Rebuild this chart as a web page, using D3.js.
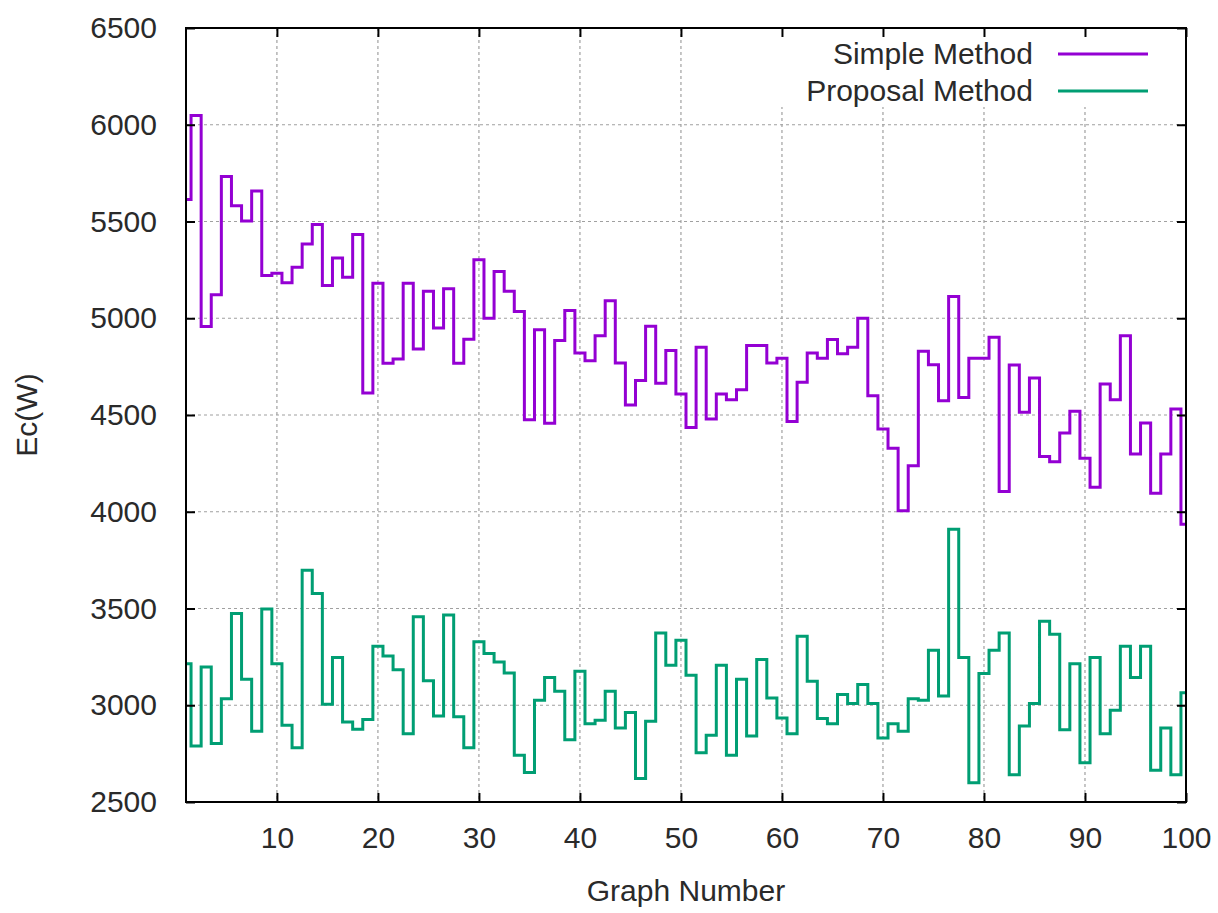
<!DOCTYPE html>
<html>

<head>
    <style>
        body {
            margin: 0;
            background: white;
        }

        text {
            font-family: "Liberation Sans", Arial, sans-serif;
            font-size: 30px;
            fill: #2a2a2a;
        }

        .grid line {
            stroke: #a0a0a0;
            stroke-width: 1.2;
            stroke-dasharray: 3, 3;
        }

        .series {
            fill: none;
            stroke-width: 3;
            stroke-linejoin: miter;
        }
    </style>
    <script src="https://d3js.org/d3.v7.min.js"></script>
</head>

<body>
    <svg width="1218" height="913"></svg>
    <script>
        // values, graph number 1..100
        var graphNumbers = d3.range(1, 101);

        var simpleMethod = [
            5614, 6048, 4957, 5121, 5733, 5581, 5502, 5657, 5221, 5233,
            5183, 5264, 5384, 5484, 5169, 5312, 5212, 5433, 4614, 5181,
            4767, 4790, 5181, 4841, 5140, 4950, 5152, 4767, 4891, 5302,
            5000, 5241, 5140, 5035, 4476, 4940, 4457, 4885, 5040, 4821,
            4781, 4910, 5091, 4769, 4552, 4678, 4959, 4664, 4833, 4609,
            4436, 4850, 4479, 4609, 4579, 4631, 4859, 4859, 4769, 4793,
            4466, 4669, 4821, 4793, 4890, 4816, 4850, 5000, 4600, 4428,
            4328, 4005, 4238, 4829, 4760, 4574, 5112, 4591, 4793, 4793,
            4902, 4105, 4759, 4514, 4691, 4286, 4259, 4407, 4519, 4276,
            4126, 4660, 4579, 4910, 4298, 4459, 4095, 4298, 4531, 3936
        ];

        var proposalMethod = [
            3215, 2790, 3198, 2802, 3034, 3474, 3134, 2866, 3497, 3215,
            2897, 2781, 3698, 3578, 3005, 3247, 2914, 2876, 2926, 3305,
            3255, 3184, 2853, 3457, 3126, 2945, 3466, 2940, 2781, 3328,
            3267, 3224, 3167, 2741, 2652, 3026, 3143, 3072, 2822, 3176,
            2905, 2922, 3072, 2883, 2962, 2621, 2917, 3374, 3207, 3336,
            3155, 2755, 2845, 3207, 2741, 3134, 2841, 3236, 3038, 2934,
            2853, 3357, 3124, 2931, 2905, 3055, 3009, 3107, 3009, 2831,
            2905, 2866, 3034, 3026, 3284, 3048, 3909, 3247, 2600, 3164,
            3284, 3374, 2641, 2893, 3009, 3434, 3367, 2874, 3215, 2703,
            3247, 2853, 2974, 3305, 3143, 3305, 2664, 2883, 2641, 3064
        ];

        var seriesNames = ["Simple Method", "Proposal Method"];
        var seriesColors = ["#9400d3", "#009e73"];

        var xTicks = [10, 20, 30, 40, 50, 60, 70, 80, 90, 100];
        var yTicks = [2500, 3000, 3500, 4000, 4500, 5000, 5500, 6000, 6500];

        var svg = d3.select("svg"),
            plotLeft = 186, plotRight = 1186, plotTop = 28, plotBottom = 802,
            width = plotRight - plotLeft,
            height = plotBottom - plotTop;

        var x = d3.scaleLinear().domain([1, 100]).range([plotLeft, plotRight]);
        var y = d3.scaleLinear().domain([2500, 6500]).range([plotBottom, plotTop]);

        // dashed grid
        svg.append("g")
            .attr("class", "grid")
            .selectAll("line")
            .data(xTicks.filter(function (d) { return d < 100; }))
            .enter().append("line")
            .attr("x1", function (d) { return x(d); })
            .attr("x2", function (d) { return x(d); })
            .attr("y1", plotTop)
            .attr("y2", plotBottom);

        svg.append("g")
            .attr("class", "grid")
            .selectAll("line")
            .data(yTicks.filter(function (d) { return d > 2500 && d < 6500; }))
            .enter().append("line")
            .attr("x1", plotLeft)
            .attr("x2", plotRight)
            .attr("y1", function (d) { return y(d); })
            .attr("y2", function (d) { return y(d); });

        // step lines (histeps -> curveStep)
        var line = d3.line()
            .curve(d3.curveStep)
            .x(function (d, i) { return x(graphNumbers[i]); })
            .y(function (d) { return y(d); });

        [simpleMethod, proposalMethod].forEach(function (values, k) {
            svg.append("path")
                .datum(values)
                .attr("class", "series")
                .attr("stroke", seriesColors[k])
                .attr("d", line);
        });

        // key, opaque
        svg.append("rect")
            .attr("x", 776)
            .attr("y", plotTop + 1)
            .attr("width", 394)
            .attr("height", 78)
            .attr("fill", "white");

        seriesNames.forEach(function (name, k) {
            var ly = 54 + k * 37;
            svg.append("text")
                .attr("x", 1033)
                .attr("y", ly + 10)
                .attr("text-anchor", "end")
                .text(name);
            svg.append("line")
                .attr("x1", 1058)
                .attr("x2", 1148)
                .attr("y1", ly)
                .attr("y2", ly)
                .attr("stroke", seriesColors[k])
                .attr("stroke-width", 3);
        });

        // axes with inward ticks on all four sides
        svg.append("g")
            .attr("transform", "translate(0," + plotBottom + ")")
            .call(d3.axisBottom(x).tickValues(xTicks).tickSize(-9).tickPadding(25).tickFormat(d3.format("d")));
        svg.append("g")
            .attr("transform", "translate(" + plotLeft + ",0)")
            .call(d3.axisLeft(y).tickValues(yTicks).tickSize(-9).tickPadding(29).tickFormat(d3.format("d")));
        svg.append("g")
            .attr("transform", "translate(0," + plotTop + ")")
            .call(d3.axisTop(x).tickValues(xTicks).tickSize(-9).tickFormat(""));
        svg.append("g")
            .attr("transform", "translate(" + plotRight + ",0)")
            .call(d3.axisRight(y).tickValues(yTicks).tickSize(-9).tickFormat(""));

        svg.selectAll(".domain").remove();
        svg.selectAll(".tick line").attr("stroke", "#000").attr("stroke-width", 2);
        svg.selectAll(".tick text")
            .attr("font-family", null)
            .attr("font-size", null)
            .attr("fill", null);

        svg.append("rect")
            .attr("x", plotLeft)
            .attr("y", plotTop)
            .attr("width", width)
            .attr("height", height)
            .attr("fill", "none")
            .attr("stroke", "#000")
            .attr("stroke-width", 2);

        // axis titles
        svg.append("text")
            .attr("x", (plotLeft + plotRight) / 2)
            .attr("y", 901)
            .attr("text-anchor", "middle")
            .text("Graph Number");

        svg.append("text")
            .attr("transform", "translate(37," + (plotTop + plotBottom) / 2 + ") rotate(-90)")
            .attr("text-anchor", "middle")
            .text("Ec(W)");
    </script>
</body>

</html>
